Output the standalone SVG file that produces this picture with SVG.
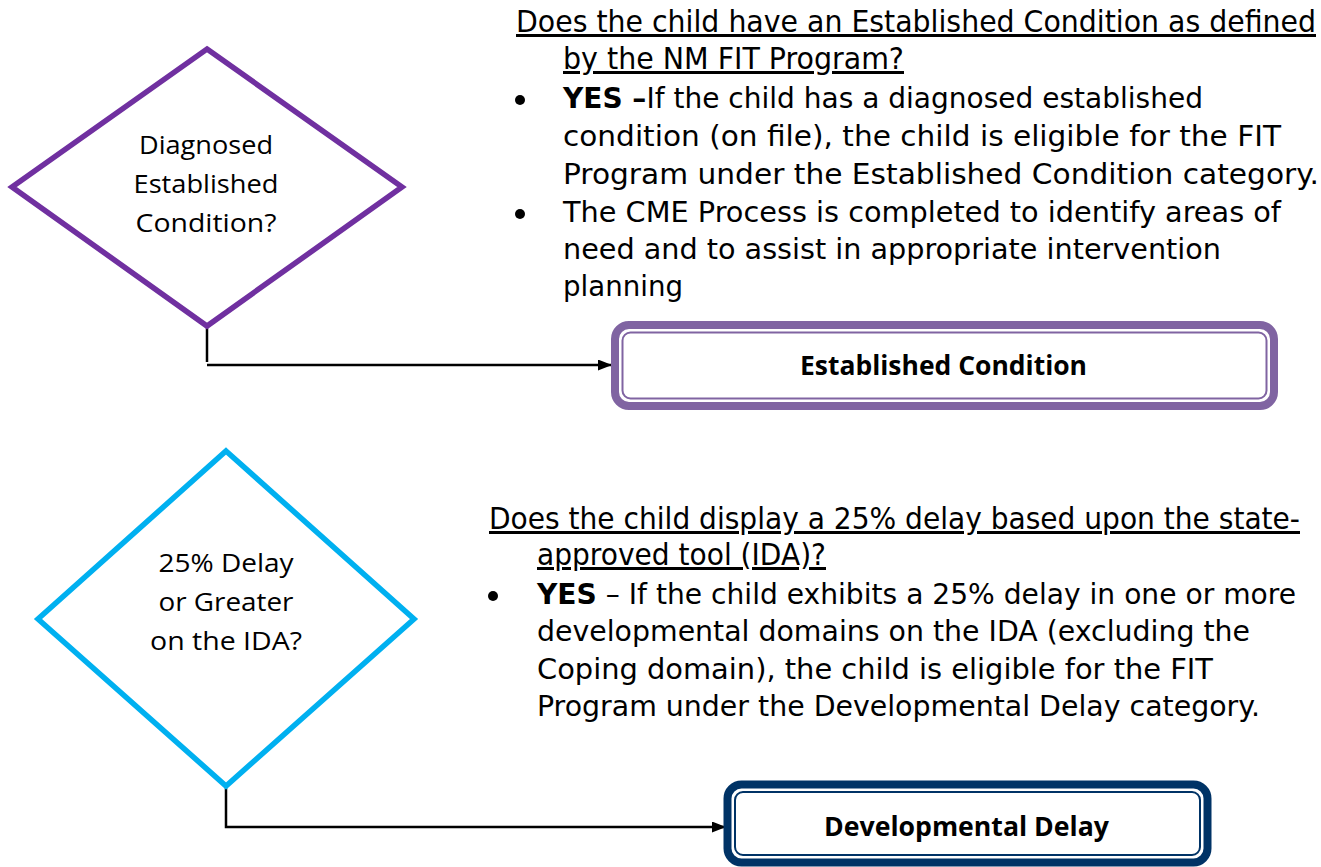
<svg xmlns="http://www.w3.org/2000/svg" width="1321" height="867" viewBox="0 0 1321 867">
  <defs>
    <marker id="arrow" viewBox="0 0 14 11" refX="14" refY="5.5" markerWidth="14" markerHeight="11" markerUnits="userSpaceOnUse" orient="auto">
      <path d="M0,0 L14,5.5 L0,11 Z" fill="#000"/>
    </marker>
    <style>
      .diamond-label { font-family: "Open Sans", "Liberation Sans", sans-serif; font-size: 25px; fill: #000; text-anchor: middle; }
      .box-label { font-family: "Open Sans", "Liberation Sans", Arial, sans-serif; font-size: 26px; font-weight: bold; fill: #000; }
      .body { font-family: "DejaVu Sans", Tahoma, sans-serif; font-size: 29px; fill: #000; }
      .head { font-family: "DejaVu Sans Condensed", "DejaVu Sans", sans-serif; font-size: 30px; fill: #000; text-decoration: underline; }
      .conn { fill: none; stroke: #000; stroke-width: 2.5; }
    </style>
  </defs>
  <rect width="1321" height="867" fill="#fff"/>

  <!-- connectors -->
  <g id="connectors">
    <path class="conn" d="M207,327 V362"/>
    <path class="conn" d="M207,365 H612" marker-end="url(#arrow)"/>
    <path class="conn" d="M226,787 V827 H726" marker-end="url(#arrow)"/>
  </g>

  <!-- decision: established condition -->
  <g id="decision-established">
    <polygon points="207,49 402,187 207,326 12,187" fill="#fff" stroke="#7030A0" stroke-width="5.5"/>
    <text class="diamond-label" x="206" y="154" textLength="134" lengthAdjust="spacingAndGlyphs">Diagnosed</text>
    <text class="diamond-label" x="206" y="193" textLength="145" lengthAdjust="spacingAndGlyphs">Established</text>
    <text class="diamond-label" x="206" y="232" textLength="141" lengthAdjust="spacingAndGlyphs">Condition?</text>
  </g>

  <!-- decision: 25% delay -->
  <g id="decision-delay">
    <polygon points="226,451 414,619 226,786 38,619" fill="#fff" stroke="#00B0F0" stroke-width="5.5"/>
    <text class="diamond-label" x="226" y="572" textLength="135" lengthAdjust="spacingAndGlyphs">25% Delay</text>
    <text class="diamond-label" x="226" y="611" textLength="135" lengthAdjust="spacingAndGlyphs">or Greater</text>
    <text class="diamond-label" x="226" y="650" textLength="152" lengthAdjust="spacingAndGlyphs">on the IDA?</text>
  </g>

  <!-- outcome: established condition -->
  <g id="outcome-established">
    <rect x="615" y="325" width="659" height="81" rx="14" fill="#fff" stroke="#8064A2" stroke-width="8"/>
    <rect x="622.5" y="332.5" width="644" height="66" rx="8" fill="none" stroke="#8064A2" stroke-width="2"/>
    <text class="box-label" x="800" y="375" textLength="287" lengthAdjust="spacingAndGlyphs">Established Condition</text>
  </g>

  <!-- outcome: developmental delay -->
  <g id="outcome-delay">
    <rect x="727.5" y="784.5" width="480" height="78" rx="14" fill="#fff" stroke="#003366" stroke-width="8"/>
    <rect x="735" y="792" width="465" height="63" rx="8" fill="none" stroke="#003366" stroke-width="2"/>
    <text class="box-label" x="824" y="836" textLength="285" lengthAdjust="spacingAndGlyphs">Developmental Delay</text>
  </g>

  <!-- explanation: established condition -->
  <g id="note-established">
    <text class="head" x="516" y="32" textLength="800" lengthAdjust="spacingAndGlyphs">Does the child have an Established Condition as defined</text>
    <text class="head" x="563" y="69" textLength="341" lengthAdjust="spacingAndGlyphs">by the NM FIT Program?</text>
    <circle cx="520" cy="100" r="5" fill="#000"/>
    <text class="body" x="563" y="108" textLength="640" lengthAdjust="spacingAndGlyphs"><tspan font-weight="bold">YES –</tspan>If the child has a diagnosed established</text>
    <text class="body" x="563" y="146" textLength="718" lengthAdjust="spacingAndGlyphs">condition (on file), the child is eligible for the FIT</text>
    <text class="body" x="563" y="184" textLength="756" lengthAdjust="spacingAndGlyphs">Program under the Established Condition category.</text>
    <circle cx="520" cy="214" r="5" fill="#000"/>
    <text class="body" x="563" y="222" textLength="718" lengthAdjust="spacingAndGlyphs">The CME Process is completed to identify areas of</text>
    <text class="body" x="563" y="259" textLength="658" lengthAdjust="spacingAndGlyphs">need and to assist in appropriate intervention</text>
    <text class="body" x="563" y="296" textLength="120" lengthAdjust="spacingAndGlyphs">planning</text>
  </g>

  <!-- explanation: developmental delay -->
  <g id="note-delay">
    <text class="head" x="489" y="529" textLength="811" lengthAdjust="spacingAndGlyphs">Does the child display a 25% delay based upon the state-</text>
    <text class="head" x="537" y="565" textLength="289" lengthAdjust="spacingAndGlyphs">approved tool (IDA)?</text>
    <circle cx="493" cy="596" r="5" fill="#000"/>
    <text class="body" x="537" y="604" textLength="759" lengthAdjust="spacingAndGlyphs"><tspan font-weight="bold">YES</tspan> – If the child exhibits a 25% delay in one or more</text>
    <text class="body" x="537" y="641" textLength="713" lengthAdjust="spacingAndGlyphs">developmental domains on the IDA (excluding the</text>
    <text class="body" x="537" y="679" textLength="676" lengthAdjust="spacingAndGlyphs">Coping domain), the child is eligible for the FIT</text>
    <text class="body" x="537" y="716" textLength="723" lengthAdjust="spacingAndGlyphs">Program under the Developmental Delay category.</text>
  </g>
</svg>
